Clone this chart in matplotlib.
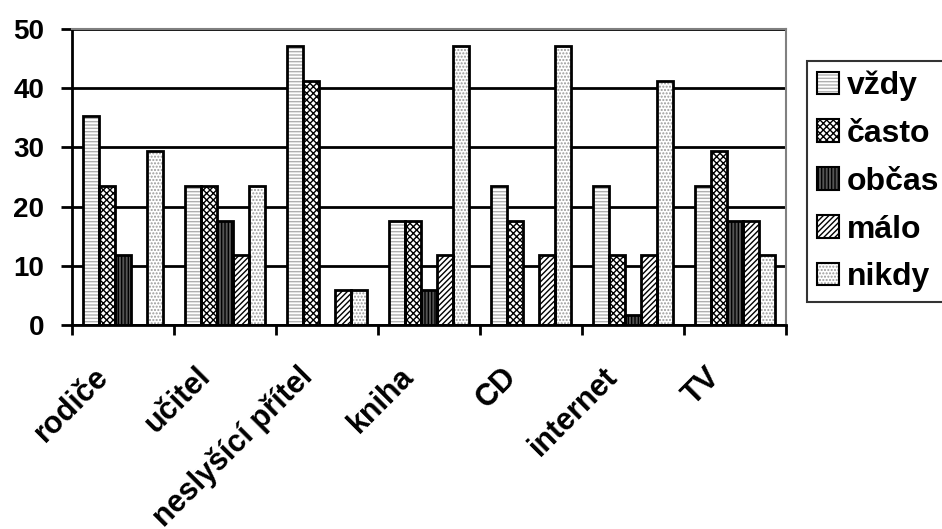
import numpy as np
import matplotlib
matplotlib.use('Agg')
import matplotlib.pyplot as plt
from matplotlib.patches import Patch
from matplotlib.transforms import ScaledTranslation

plt.rcParams['font.family'] = ['Liberation Sans', 'DejaVu Sans']
plt.rcParams['font.weight'] = 'bold'
plt.rcParams['hatch.linewidth'] = 1.0

kategorie = ['rodiče', 'učitel', 'neslyšící přítel', 'kniha', 'CD', 'internet', 'TV']
serie = ['vždy', 'často', 'občas', 'málo', 'nikdy']

vzdy = [35.3, 23.5, 47.1, 17.6, 23.5, 23.5, 23.5]
casto = [23.5, 23.5, 41.2, 17.6, 17.6, 11.8, 29.4]
obcas = [11.8, 17.6, 0, 5.9, 0, 1.7, 17.6]
malo = [0, 11.8, 5.9, 11.8, 11.8, 11.8, 17.6]
nikdy = [29.4, 23.5, 5.9, 47.1, 47.1, 41.2, 11.8]
hodnoty = [vzdy, casto, obcas, malo, nikdy]

# facecolor, hatch, hatch colour for each series
styly = [
    ('white', '-----', '#b0b0b0'),
    ('white', 'xxxxx', 'black'),
    ('#555555', '|||||', 'black'),
    ('white', '//////', 'black'),
    ('white', '.....', '#999999'),
]

fig = plt.figure(figsize=(9.42, 5.29), dpi=100)
ax = fig.add_axes([0.0764, 0.386, 0.7575, 0.559])

x = np.arange(len(kategorie))
w = 0.157
for i, (vals, (fc, h, hc)) in enumerate(zip(hodnoty, styly)):
    pos = x + (i - 2) * w
    ax.bar(pos, vals, w, color=fc, hatch=h, edgecolor=hc, linewidth=0, zorder=2)
    ax.bar(pos, vals, w, fill=False, edgecolor='black', linewidth=2, zorder=3)

ax.set_xlim(-0.5, len(kategorie) - 0.5)
ax.set_ylim(0, 50)
ax.set_yticks([0, 10, 20, 30, 40, 50])
ax.yaxis.grid(True, color='black', linewidth=2, zorder=1)
ax.set_axisbelow(True)

ax.set_xticks(np.arange(len(kategorie) + 1) - 0.5)
ax.set_xticklabels([])
ax.set_xticks(x, minor=True)
ax.set_xticklabels(kategorie, minor=True, rotation=45, ha='right',
                   va='center', rotation_mode='anchor', fontsize=22, fontweight='bold')
ax.tick_params(axis='x', which='minor', length=0, pad=30)
ax.tick_params(axis='x', which='major', length=7.5, width=2, direction='out')
ax.tick_params(axis='y', length=8, width=2, direction='out', labelsize=20, pad=12)
for t in ax.get_yticklabels():
    t.set_fontweight('bold')

# nudge the rotated category labels a bit left and down
posun = ScaledTranslation(-0.19, -0.06, fig.dpi_scale_trans)
for t in ax.get_xticklabels(minor=True):
    t.set_transform(t.get_transform() + posun)

ax.spines['left'].set_linewidth(2)
ax.spines['bottom'].set_linewidth(2)
ax.spines['top'].set_color('#808080')
ax.spines['right'].set_color('#808080')
ax.spines['top'].set_linewidth(1.5)
ax.spines['right'].set_linewidth(1.5)

# legend swatches: hatched fill under a black border
handles = []
for fc, h, hc in styly:
    vypln = Patch(facecolor=fc, hatch=h, edgecolor=hc, linewidth=0)
    okraj = Patch(fill=False, edgecolor='black', linewidth=1.5)
    handles.append((vypln, okraj))
leg = fig.legend(handles, serie, loc='upper left', bbox_to_anchor=(0.857, 0.885),
                 frameon=True, fancybox=False, edgecolor='black',
                 prop={'size': 23, 'weight': 'bold'}, handlelength=0.7,
                 handleheight=0.7, handletextpad=0.25, labelspacing=0.56,
                 borderpad=0.3, borderaxespad=0)
leg.get_frame().set_linewidth(1.5)

fig.savefig('out.png', dpi=100)
